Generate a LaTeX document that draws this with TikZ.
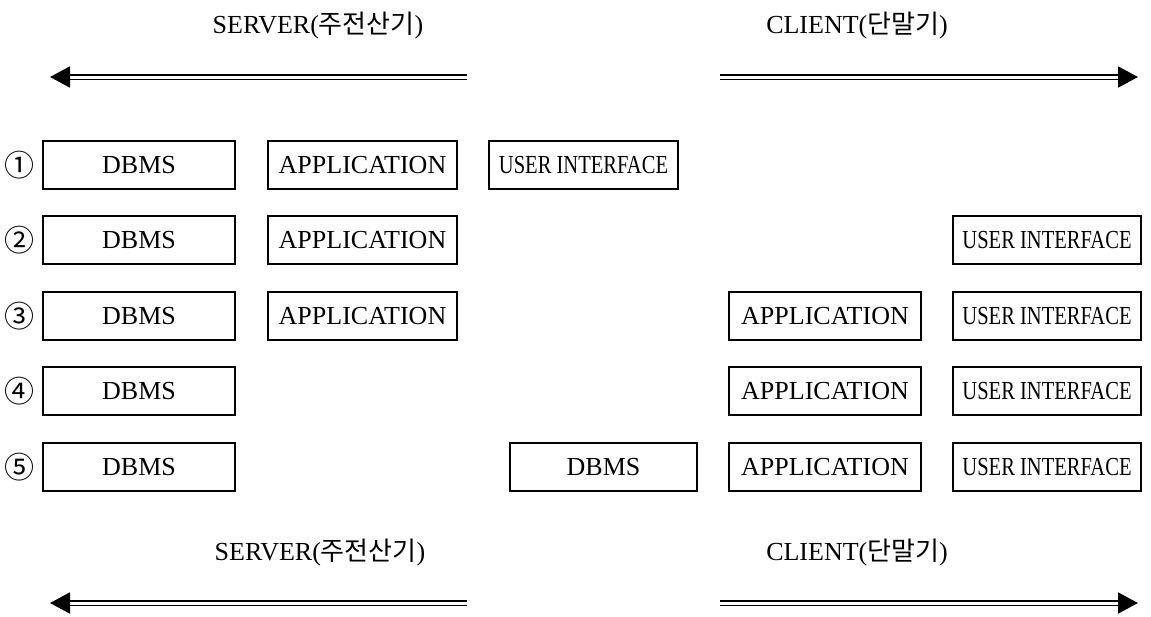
\documentclass[tikz,border=0pt]{standalone}
\usepackage{fontspec}
\setmainfont{Liberation Serif}
\newfontfamily\kr{Noto Sans CJK KR}
\usetikzlibrary{arrows.meta}
\tikzset{
  tierbox/.style={draw, line width=1.4pt, minimum height=48pt, inner sep=0pt,
    font=\fontsize{26}{30}\selectfont},
  hdr/.style={inner sep=0pt, font=\fontsize{26}{30}\selectfont},
  num/.style={inner sep=0pt, font=\kr\fontsize{30}{34}\selectfont},
  dblarrow/.style={double, double distance=3pt, line width=1.9pt,
    -{Triangle[length=20pt,width=21pt]}}
}
\newcommand{\ui}{\scalebox{0.79}[1]{USER INTERFACE}}
\begin{document}
\begin{tikzpicture}[x=1pt,y=-1pt]
\useasboundingbox (0,0) rectangle (1151,616);
% headers
\node[hdr] (srvT) at (318,26) {SERVER({\kr 주전산기})};
\node[hdr] (cliT) at (857,26) {CLIENT({\kr 단말기})};
\node[hdr] (srvB) at (320,553) {SERVER({\kr 주전산기})};
\node[hdr] (cliB) at (857,553) {CLIENT({\kr 단말기})};
% arrows
\coordinate (tlS) at (467,77); \coordinate (tlE) at (50,77);
\coordinate (trS) at (720,77); \coordinate (trE) at (1138,77);
\coordinate (blS) at (467,603); \coordinate (blE) at (50,603);
\coordinate (brS) at (720,603); \coordinate (brE) at (1138,603);
\draw[dblarrow] (tlS) -- (tlE);
\draw[dblarrow] (trS) -- (trE);
\draw[dblarrow] (blS) -- (blE);
\draw[dblarrow] (brS) -- (brE);
% row numbers
\node[num] (n1) at (20,165) {①};
\node[num] (n2) at (20,240) {②};
\node[num] (n3) at (20,316) {③};
\node[num] (n4) at (20,391) {④};
\node[num] (n5) at (20,467) {⑤};
% row 1
\node[tierbox, minimum width=192pt] (d1) at (139,165) {DBMS};
\node[tierbox, minimum width=189pt] (a1) at (362.5,165) {APPLICATION};
\node[tierbox, minimum width=189pt] (u1) at (583.5,165) {\ui};
% row 2
\node[tierbox, minimum width=192pt] (d2) at (139,240) {DBMS};
\node[tierbox, minimum width=189pt] (a2) at (362.5,240) {APPLICATION};
\node[tierbox, minimum width=188pt] (u2) at (1047,240) {\ui};
% row 3
\node[tierbox, minimum width=192pt] (d3) at (139,316) {DBMS};
\node[tierbox, minimum width=189pt] (a3) at (362.5,316) {APPLICATION};
\node[tierbox, minimum width=192pt] (ar3) at (825,316) {APPLICATION};
\node[tierbox, minimum width=188pt] (u3) at (1047,316) {\ui};
% row 4
\node[tierbox, minimum width=192pt] (d4) at (139,391) {DBMS};
\node[tierbox, minimum width=192pt] (ar4) at (825,391) {APPLICATION};
\node[tierbox, minimum width=188pt] (u4) at (1047,391) {\ui};
% row 5
\node[tierbox, minimum width=192pt] (d5) at (139,467) {DBMS};
\node[tierbox, minimum width=187pt] (dm5) at (603.5,467) {DBMS};
\node[tierbox, minimum width=192pt] (ar5) at (825,467) {APPLICATION};
\node[tierbox, minimum width=188pt] (u5) at (1047,467) {\ui};
\end{tikzpicture}
\end{document}
